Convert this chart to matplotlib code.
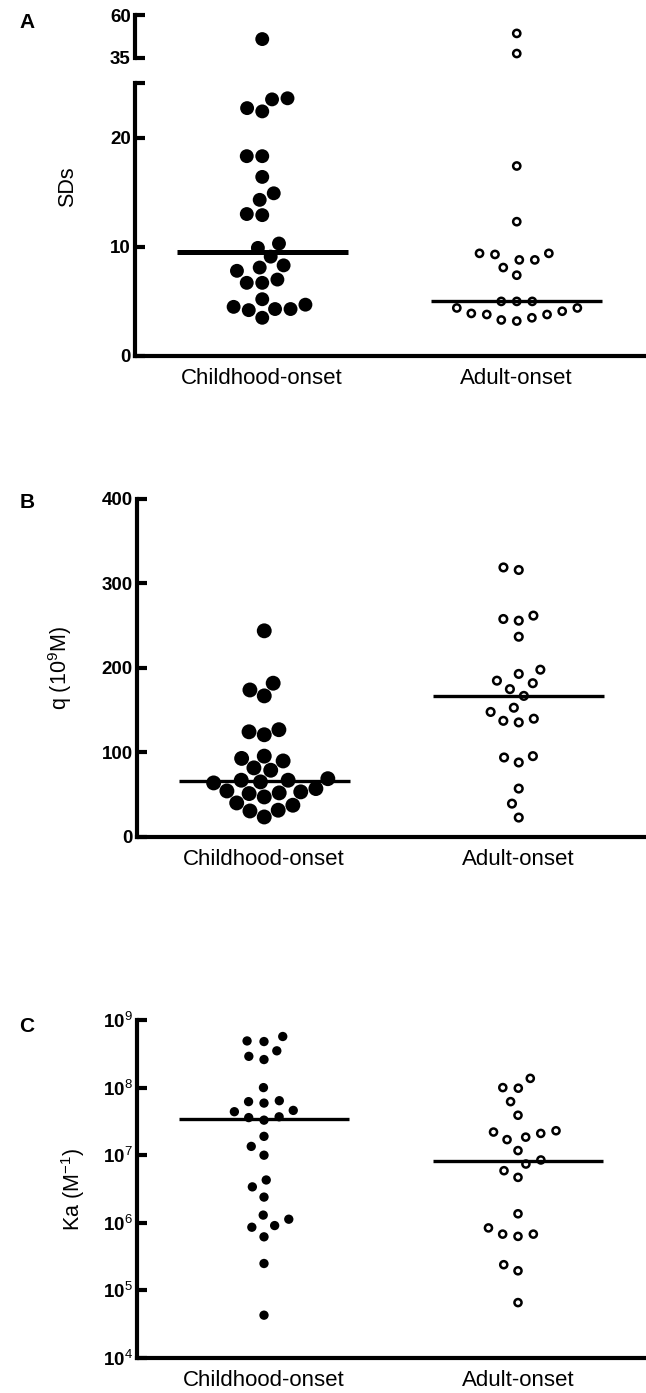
import numpy as np
import matplotlib
matplotlib.use('Agg')
import matplotlib.pyplot as plt

plt.rcParams['font.family'] = ['Liberation Sans', 'DejaVu Sans']
plt.rcParams['mathtext.fontset'] = 'custom'
plt.rcParams['mathtext.rm'] = 'Liberation Sans'
plt.rcParams['mathtext.it'] = 'Liberation Sans:italic'
plt.rcParams['mathtext.bf'] = 'Liberation Sans:bold'

groups = ['Childhood-onset', 'Adult-onset']

# Panel A - SDs
sds_child = [46, 23.6, 23.5, 22.7, 22.4, 18.3, 18.3, 16.4, 14.9, 14.3, 13.0, 12.9,
             10.3, 9.9, 9.1, 8.3, 8.1, 7.8, 7.0, 6.7, 6.7, 5.2, 4.7, 4.5, 4.3,
             4.3, 4.2, 3.5]
sds_adult = [49.3, 37.6, 17.4, 12.3, 9.4, 9.3, 9.4, 8.8, 8.8, 8.1, 7.4, 5.0, 5.0,
             5.0, 4.4, 4.1, 3.8, 3.5, 3.2, 3.3, 3.8, 3.9, 4.4]
sds_median = [9.5, 5.0]

# Panel B - q (10^-9 M)
q_child = [244, 182, 174, 167, 127, 121, 124.5, 93, 90, 95.7, 81.8, 79, 65.2, 69,
           67.2, 67.2, 64, 57.3, 53.4, 51.4, 47.4, 52.2, 54.5, 40.3, 37.6, 31.7,
           30.8, 23.7]
q_adult = [316, 319, 258, 256, 262, 237, 198, 193, 182, 185, 175, 167, 148, 137.5,
           135.6, 140, 153, 95.7, 88.2, 94.1, 57.3, 39.5, 23]
q_median = [66, 167]

# Panel C - Ka (M^-1)
ka_child = [5.7e8, 4.8e8, 4.9e8, 2.9e8, 2.6e8, 3.5e8, 1.0e8, 6.2e7, 5.9e7, 6.4e7,
            4.6e7, 4.4e7, 3.7e7, 3.3e7, 3.6e7, 1.9e7, 1.35e7, 1.0e7, 4.3e6, 3.4e6,
            2.4e6, 1.3e6, 1.13e6, 9.1e5, 8.6e5, 6.2e5, 2.5e5, 4.3e4]
ka_adult = [1.37e8, 9.8e7, 1.0e8, 6.2e7, 3.9e7, 2.3e7, 2.1e7, 2.2e7, 1.85e7, 1.7e7,
            1.17e7, 7.4e6, 8.5e6, 5.9e6, 4.7e6, 1.36e6, 6.8e5, 6.3e5, 6.8e5, 8.4e5,
            2.4e5, 1.95e5, 6.6e4]
ka_median = [3.4e7, 8.2e6]

W, H = 646, 1393
fig = plt.figure(figsize=(W / 100, H / 100), dpi=100)


def px_axes(left, top, right, bottom):
    # axes from pixel box
    return fig.add_axes([left / W, 1 - bottom / H, (right - left) / W, (bottom - top) / H])


def style(ax, bottom=True):
    for s in ['top', 'right']:
        ax.spines[s].set_visible(False)
    ax.spines['left'].set_linewidth(3)
    ax.spines['bottom'].set_linewidth(3)
    ax.spines['bottom'].set_visible(bottom)
    ax.set_xlim(-0.5, 1.5)
    ax.tick_params(axis='y', direction='in', length=7, width=3, pad=3,
                   labelsize=13.5)
    for t in ax.get_yticklabels():
        t.set_fontweight('bold')
    if bottom:
        ax.set_xticks([0, 1])
        ax.set_xticklabels(groups, fontsize=16)
        ax.tick_params(axis='x', length=0, pad=9)
    else:
        ax.set_xticks([])
    ax.patch.set_visible(False)


def swarm_x(ax, values, center, d):
    # simple beeswarm in pixel space
    trans = ax.transData
    pts = trans.transform([(center, v) for v in values])
    order = np.argsort(values)
    placed = []
    xs = np.zeros(len(values))
    for i in order:
        x0, y = pts[i]
        cands = [x0]
        for px, py in placed:
            dy = abs(py - y)
            if dy < d:
                dx = np.sqrt(d * d - dy * dy)
                cands += [px - dx, px + dx]
        cands.sort(key=lambda c: (round(abs(c - x0), 3), c))
        for c in cands:
            if all((c - px) ** 2 + (y - py) ** 2 >= d * d - 1e-6 for px, py in placed):
                break
        placed.append((c, y))
        xs[i] = c
    inv = trans.inverted()
    return [inv.transform((x, pts[0][1]))[0] for x in xs]


def draw_group(ax, vals, pos, filled, s_fill, s_open, d=15.5):
    xs = swarm_x(ax, vals, pos, d)
    if filled:
        ax.scatter(xs, vals, s=s_fill, c='black', edgecolors='none', zorder=3,
                   clip_on=False)
    else:
        ax.scatter(xs, vals, s=s_open, facecolors='none', edgecolors='black',
                   linewidths=1.8, zorder=3, clip_on=False)


def median_line(ax, val, pos, lw):
    ax.hlines(val, pos - 0.335, pos + 0.335, colors='black', linewidth=lw, zorder=2)


# ---- Panel A (broken axis) ----
axA = px_axes(135, 83, 644, 356)
axA_top = px_axes(135, 15, 644, 58)
axA.set_ylim(0, 25)
axA.set_yticks([0, 10, 20, 25])
axA.set_yticklabels(['0', '10', '20', ''])
axA_top.set_ylim(35, 60)
axA_top.set_yticks([35, 60])
style(axA)
style(axA_top, bottom=False)

for pos, vals, filled in [(0, sds_child, True), (1, sds_adult, False)]:
    low = [v for v in vals if v <= 25]
    high = [v for v in vals if v > 25]
    draw_group(axA, low, pos, filled, 100, 27)
    draw_group(axA_top, high, pos, filled, 100, 27)
median_line(axA, sds_median[0], 0, 3.6)
median_line(axA, sds_median[1], 1, 2.4)

# ---- Panel B ----
axB = px_axes(137, 499, 646, 837)
axB.set_ylim(0, 400)
axB.set_yticks([0, 100, 200, 300, 400])
style(axB)
draw_group(axB, q_child, 0, True, 115, 30)
draw_group(axB, q_adult, 1, False, 115, 30)
median_line(axB, q_median[0], 0, 2.4)
median_line(axB, q_median[1], 1, 2.4)

# ---- Panel C ----
axC = px_axes(137, 1020, 645, 1358)
axC.set_yscale('log')
axC.set_ylim(1e4, 1e9)
axC.set_yticks([1e4, 1e5, 1e6, 1e7, 1e8, 1e9])
axC.set_yticklabels([r'10$^{%d}$' % e for e in range(4, 10)])
axC.minorticks_off()
style(axC)
draw_group(axC, ka_child, 0, True, 45, 26)
draw_group(axC, ka_adult, 1, False, 45, 26)
median_line(axC, ka_median[0], 0, 2.4)
median_line(axC, ka_median[1], 1, 2.4)

# labels
def ftext(x, y, s, **kw):
    fig.text(x / W, 1 - y / H, s, **kw)

ftext(68, 187, 'SDs', rotation=90, ha='center', va='center', fontsize=15.5)
ftext(60, 668, r'q (10$^{9}$M)', rotation=90, ha='center', va='center', fontsize=15.5)
ftext(73, 1189, r'Ka (M$^{-1}$)', rotation=90, ha='center', va='center', fontsize=15.5)
ftext(27, 23, 'A', ha='center', va='center', fontsize=15, fontweight='bold')
ftext(27, 503, 'B', ha='center', va='center', fontsize=15, fontweight='bold')
ftext(27, 1027, 'C', ha='center', va='center', fontsize=15, fontweight='bold')

fig.savefig('out.png', dpi=100, facecolor='white')
